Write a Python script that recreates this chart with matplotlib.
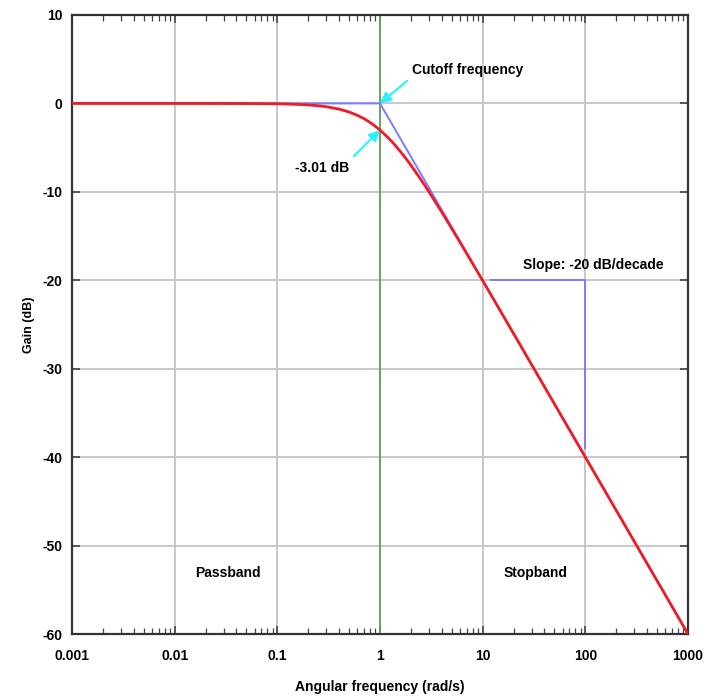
import matplotlib
matplotlib.use("Agg")
import matplotlib.pyplot as plt
from matplotlib.ticker import FixedLocator, LogLocator, NullFormatter
from matplotlib import font_manager

# ---- data ----
freq = [0.001, 0.01, 0.05, 0.1, 0.15, 0.2, 0.25, 0.3, 0.4, 0.5, 0.6, 0.7, 0.8, 0.9, 1.0,
        1.2, 1.4, 1.6, 1.8, 2.0, 2.5, 3.0, 4.0, 5.0, 6.0, 7.0, 8.0, 10.0, 15.0, 20.0,
        30.0, 50.0, 100.0, 1000.0]
gain_db = [0.0, 0.0, -0.01, -0.04, -0.10, -0.17, -0.26, -0.37, -0.64, -0.97, -1.34, -1.73,
           -2.15, -2.58, -3.01, -3.87, -4.71, -5.52, -6.27, -6.99, -8.60, -10.0, -12.30,
           -14.15, -15.68, -16.99, -18.13, -20.04, -23.54, -26.03, -29.55, -33.98, -40.0, -60.0]
asym_freq = [0.001, 1.0, 1000.0]
asym_db = [0.0, 0.0, -60.0]
slope_freq = [12.0, 100.0, 100.0]
slope_db = [-20.0, -20.0, -39.0]
cutoff = 1.0
cutoff_db = -3.01
x_ticks = [0.001, 0.01, 0.1, 1, 10, 100, 1000]
x_ticklabels = ["0.001", "0.01", "0.1", "1", "10", "100", "1000"]
y_ticks = [10, 0, -10, -20, -30, -40, -50, -60]
y_ticklabels = ["10", "0", "-10", "-20", "-30", "-40", "-50", "-60"]

names = {f.name for f in font_manager.fontManager.ttflist}
fam = ["Liberation Sans Narrow", "Liberation Sans", "DejaVu Sans"]
fam = [f for f in fam if f in names] or ["DejaVu Sans"]
plt.rcParams["font.family"] = fam
plt.rcParams["font.weight"] = "bold"
plt.rcParams["axes.labelweight"] = "bold"

fig = plt.figure(figsize=(7.15, 6.98), dpi=100)
ax = fig.add_axes([72/715, 64/698, 616/715, 619/698])

ax.set_xscale("log")
ax.set_xlim(0.001, 1000)
ax.set_ylim(-60, 10)

ax.xaxis.set_major_locator(FixedLocator(x_ticks))
ax.xaxis.set_minor_locator(LogLocator(base=10, subs=range(2, 10)))
ax.xaxis.set_minor_formatter(NullFormatter())
ax.set_xticklabels(x_ticklabels)
ax.set_yticks(y_ticks)
ax.set_yticklabels(y_ticklabels)
ax.grid(True, which="major", color="#c4c4c4", lw=1.3, zorder=0)

ax.tick_params(which="both", direction="in", top=True, right=True, labelsize=10,
               color="#444444")
ax.tick_params(which="major", length=6, width=1.2)
ax.tick_params(which="minor", length=4, width=0.9)
ax.tick_params(axis="x", which="major", pad=11)
ax.tick_params(axis="y", which="major", pad=7)
for s in ax.spines.values():
    s.set_linewidth(1.6)
    s.set_color("#333333")

# cutoff line
ax.axvline(cutoff, color="#5fa35f", lw=1.3, zorder=2)

# asymptote and slope triangle
ax.plot(asym_freq, asym_db, color="#7b7bff", lw=1.4, zorder=3)
ax.plot(slope_freq, slope_db, color="#7b7bff", lw=1.4, zorder=3)

# response
ax.plot(freq, gain_db, color="#ee1c24", lw=2.0, zorder=4)

# annotations
ax.annotate("Cutoff frequency", xy=(cutoff, 0), xytext=(2.05, 3.8),
            fontsize=10, ha="left", va="center",
            arrowprops=dict(arrowstyle="-|>", color="#33f0ff", lw=1.6,
                            mutation_scale=16, shrinkA=2, shrinkB=0, relpos=(0, 0)))
ax.annotate("-3.01 dB", xy=(cutoff, cutoff_db), xytext=(0.50, -7.3),
            fontsize=10, ha="right", va="center",
            arrowprops=dict(arrowstyle="-|>", color="#33f0ff", lw=1.6,
                            mutation_scale=16, shrinkA=2, shrinkB=0, relpos=(1, 1)))
ax.text(24.7, -18.3, "Slope: -20 dB/decade", fontsize=10, ha="left", va="center")
ax.text(0.033, -53.1, "Passband", fontsize=10, ha="center", va="center")
ax.text(33, -53.1, "Stopband", fontsize=10, ha="center", va="center")

ax.set_xlabel("Angular frequency (rad/s)", fontsize=10, labelpad=12)
ax.set_ylabel("Gain (dB)", fontsize=9, labelpad=5)

fig.savefig("out.png", dpi=100)
